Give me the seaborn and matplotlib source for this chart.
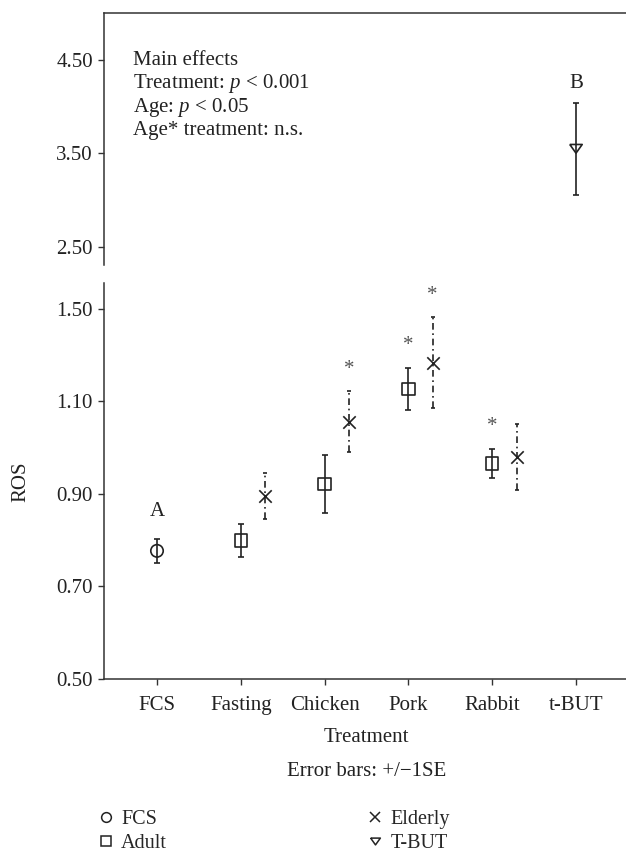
import numpy as np
import pandas as pd
import matplotlib
matplotlib.use("Agg")
import matplotlib.pyplot as plt
import seaborn as sns
from matplotlib.lines import Line2D

# ---------------- data ----------------
categories = ["FCS", "Fasting", "Chicken", "Pork", "Rabbit", "t-BUT"]

fcs_cat = ["FCS"]
fcs_mean = [0.777]
fcs_se = [0.026]

adult_cat = ["Fasting", "Chicken", "Pork", "Rabbit"]
adult_mean = [0.799, 0.922, 1.127, 0.966]
adult_se = [0.036, 0.063, 0.045, 0.032]
adult_sig = [False, False, True, True]

elderly_cat = ["Fasting", "Chicken", "Pork", "Rabbit"]
elderly_mean = [0.895, 1.056, 1.184, 0.980]
elderly_se = [0.050, 0.066, 0.098, 0.071]
elderly_sig = [False, True, True, False]

tbut_cat = ["t-BUT"]
tbut_mean = [3.55]
tbut_se = [0.49]

letter_cat = ["FCS", "t-BUT"]
letter_text = ["A", "B"]

low_ticks = [0.5, 0.7, 0.9, 1.1, 1.3]
low_tick_labels = ["0.50", "0.70", "0.90", "1.10", "1.50"]
high_ticks = [2.5, 3.5, 4.5]
high_tick_labels = ["2.50", "3.50", "4.50"]

legend_labels = ["FCS", "Adult", "Elderly", "T-BUT"]
annotation_lines = ["Main effects", "Treatment: $p$ < 0.001", "Age: $p$ < 0.05", "Age* treatment: n.s."]

# ---------------- style ----------------
sns.set_theme(style="white")
plt.rcParams["font.family"] = ["Liberation Serif", "DejaVu Serif"]
plt.rcParams["mathtext.fontset"] = "custom"
plt.rcParams["mathtext.rm"] = "Liberation Serif"
plt.rcParams["mathtext.it"] = "Liberation Serif:italic"
FS = 15
INK = "#222222"
SPINE = "#333333"

W, H = 626, 856
fig = plt.figure(figsize=(W / 100, H / 100), dpi=100)
ax_top = fig.add_axes([104 / W, 1 - 265 / H, 522 / W, 252 / H])
ax_bot = fig.add_axes([104 / W, 1 - 679 / H, 522 / W, 396 / H])

ELD_OFF = 0.29
tri = [(-1, 0.7), (1, 0.7), (0, -0.7), (-1, 0.7)]


def pos(cats, off=0.0):
    return [categories.index(c) + off for c in cats]


def build(cats, mean, se, off, group):
    return pd.DataFrame({"pos": pos(cats, off), "ROS": mean, "se": se, "group": group})


df_fcs = build(fcs_cat, fcs_mean, fcs_se, 0.0, "FCS")
df_ad = build(adult_cat, adult_mean, adult_se, 0.0, "Adult")
df_el = build(elderly_cat, elderly_mean, elderly_se, ELD_OFF, "Elderly")
df_tb = build(tbut_cat, tbut_mean, tbut_se, 0.0, "T-BUT")

MS = 80
LW = 1.2


def ebar(ax, d, ls="-", cap=2.2):
    eb = ax.errorbar(d["pos"], d["ROS"], yerr=d["se"], fmt="none", ecolor=INK,
                     elinewidth=LW, capsize=cap, capthick=LW, zorder=3)
    for lc in eb[2]:
        lc.set_linestyle(ls)
    return eb


ebar(ax_bot, df_fcs)
ebar(ax_bot, df_ad)
ebar(ax_bot, df_el, ls=(0, (4, 2.2, 1, 2.2)), cap=1.6)
ebar(ax_top, df_tb)

# points
sns.scatterplot(data=df_fcs, x="pos", y="ROS", marker="o", s=MS, facecolor="none",
                edgecolor=INK, linewidth=LW, ax=ax_bot, zorder=4, legend=False)
sns.scatterplot(data=df_ad, x="pos", y="ROS", marker="s", s=MS, facecolor="none",
                edgecolor=INK, linewidth=LW, ax=ax_bot, zorder=4, legend=False)
sns.scatterplot(data=df_el, x="pos", y="ROS", marker="x", s=MS, color=INK,
                linewidth=LW, ax=ax_bot, zorder=4, legend=False)
sns.scatterplot(data=df_tb, x="pos", y="ROS", marker=tri, s=MS, facecolor="none",
                edgecolor=INK, linewidth=LW, ax=ax_top, zorder=4, legend=False)

# significance stars
for d, sig in ((df_ad, adult_sig), (df_el, elderly_sig)):
    for (_, r), s in zip(d.iterrows(), sig):
        if s:
            ax_bot.annotate("*", (r["pos"], r["ROS"] + r["se"]), xytext=(0, 16),
                            textcoords="offset points", ha="center", va="center",
                            fontsize=FS, color="#555555")

# group letters
for c, t in zip(letter_cat, letter_text):
    if c in fcs_cat:
        d, ax, off = df_fcs, ax_bot, 20
    else:
        d, ax, off = df_tb, ax_top, 14
    r = d.iloc[0]
    ax.annotate(t, (r["pos"], r["ROS"] + r["se"]), xytext=(0, off),
                textcoords="offset points", ha="center", va="center",
                fontsize=FS, color=INK)

# axes limits / ticks
x0 = (104 - 157) / 83.8
x1 = (626 - 157) / 83.8
for ax in (ax_top, ax_bot):
    ax.set_xlim(x0, x1)
    ax.set_xlabel("")
    ax.set_ylabel("")
    ax.tick_params(axis="both", direction="out", length=4.5, width=1.0, color=SPINE,
                   labelsize=FS, labelcolor=INK, pad=3.5, left=True, bottom=True)

ax_bot.set_ylim(0.5, 1.356)
ax_bot.set_yticks(low_ticks)
ax_bot.set_yticklabels(low_tick_labels)
ax_bot.set_xticks(range(len(categories)))
ax_bot.set_xticklabels(categories)
ax_bot.tick_params(axis="x", pad=8)
for s in ("top", "right"):
    ax_bot.spines[s].set_visible(False)
for s in ("left", "bottom"):
    ax_bot.spines[s].set_color(SPINE)
    ax_bot.spines[s].set_linewidth(1.1)

ax_top.set_ylim(2.307, 5.003)
ax_top.set_yticks(high_ticks)
ax_top.set_yticklabels(high_tick_labels)
ax_top.set_xticks([])
for s in ("bottom", "right"):
    ax_top.spines[s].set_visible(False)
for s in ("left", "top"):
    ax_top.spines[s].set_color(SPINE)
    ax_top.spines[s].set_linewidth(1.1)

for i, line in enumerate(annotation_lines):
    fig.text(133 / W, 1 - (65 + 23.4 * i) / H, line, ha="left", va="baseline",
             fontsize=FS, color=INK)

# labels
fig.text(366 / W, 1 - 738 / H, "Treatment", ha="center", va="center", fontsize=FS, color=INK)
fig.text(367 / W, 1 - 772 / H, "Error bars: +/\u22121SE", ha="center", va="center",
         fontsize=FS, color=INK)
fig.text(21 / W, 1 - 482 / H, "ROS", ha="center", va="center", rotation=90,
         fontsize=FS, color=INK)

# legend
handles = [
    Line2D([], [], ls="none", marker="o", ms=7, mfc="none", mec=INK, mew=1.1),
    Line2D([], [], ls="none", marker="s", ms=7, mfc="none", mec=INK, mew=1.1),
    Line2D([], [], ls="none", marker="x", ms=7, color=INK, mew=1.1),
    Line2D([], [], ls="none", marker=tri, ms=7, mfc="none", mec=INK, mew=1.1),
]
fig.legend(handles, legend_labels, ncol=2, loc="upper left",
           bbox_to_anchor=(99 / W, 1 - 810 / H), frameon=False, fontsize=14.5,
           handlelength=0.7, handletextpad=0.4, columnspacing=10.0,
           labelspacing=0.25, borderaxespad=0, borderpad=0)

fig.savefig("out.png", dpi=100)
